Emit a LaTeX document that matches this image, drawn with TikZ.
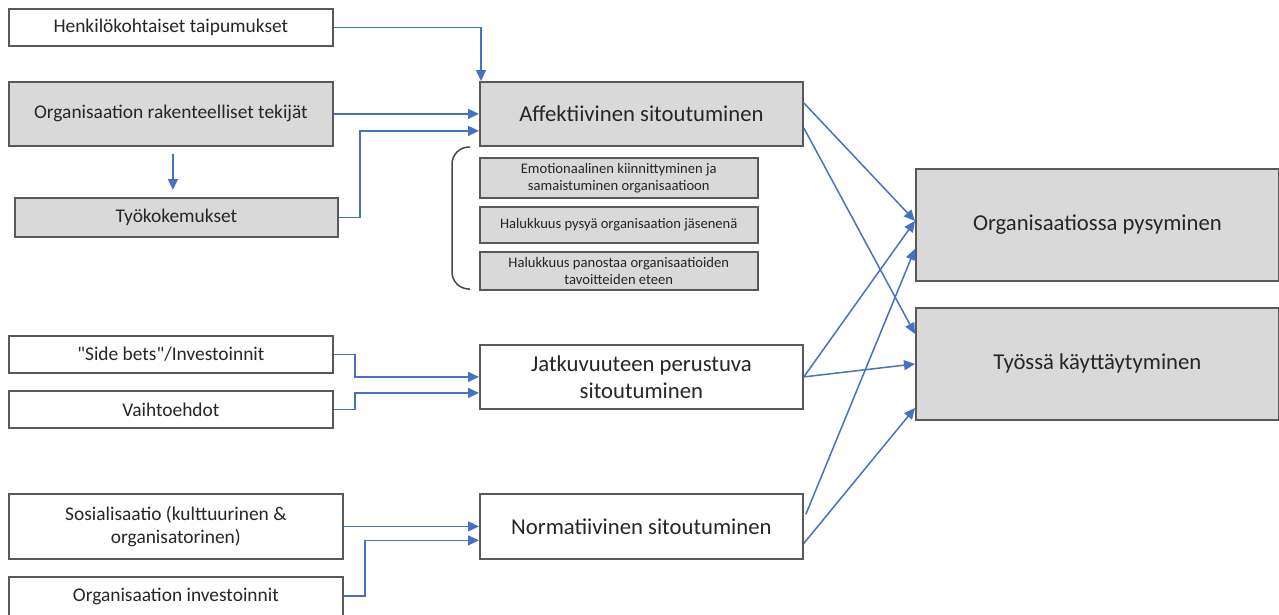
\documentclass[tikz,border=0pt]{standalone}
\usepackage{fontspec}
\setmainfont{Carlito}
\usetikzlibrary{arrows.meta,calc}
\definecolor{bordc}{HTML}{595959}
\definecolor{boxg}{HTML}{D9D9D9}
\definecolor{arrc}{HTML}{4472C4}
\definecolor{txtc}{HTML}{262626}
\newcommand\fsmall{\fontsize{19.4}{23}\selectfont}
\newcommand\fbig{\fontsize{22.7}{27}\selectfont}
\newcommand\ftiny{\fontsize{14.6}{17}\selectfont}
\newcommand\dquote{\XeTeXglyph\XeTeXcharglyph"22\relax}
\tikzset{
  box/.style={draw=bordc, line width=1.8pt, inner sep=2pt, anchor=north west, align=center, text=txtc, font=\fsmall, fill=white},
  gbox/.style={box, fill=boxg},
  bigbox/.style={font=\fbig},
  tinybox/.style={gbox, font=\ftiny, line width=1.5pt},
  arr/.style={draw=arrc, line width=1.5pt, -{Triangle[length=11pt,width=10pt]}},
}
\begin{document}
\begin{tikzpicture}[x=1pt,y=-1pt]
\useasboundingbox (0,0) rectangle (1279,614);
% left boxes
\node[box, minimum width=324pt, minimum height=37pt] (henk) at (8,8) {Henkilökohtaiset taipumukset};
\node[gbox, minimum width=324pt, minimum height=64pt] (org) at (8,81) {Organisaation rakenteelliset tekijät};
\node[gbox, minimum width=323pt, minimum height=39pt] (tyo) at (14,197) {Työkokemukset};
\node[box, minimum width=324pt, minimum height=37pt] (sb) at (8,335) {\dquote Side bets\dquote/Investoinnit};
\node[box, minimum width=324pt, minimum height=37pt] (vai) at (8,390) {Vaihtoehdot};
\node[box, minimum width=334pt, minimum height=65pt] (sos) at (8,493) {Sosialisaatio (kulttuurinen \&\\organisatorinen)};
\node[box, minimum width=334pt, minimum height=42pt, text depth=6pt] (oi) at (8,576) {Organisaation investoinnit};
% middle boxes
\node[gbox, bigbox, minimum width=323pt, minimum height=64pt] (aff) at (479,81) {Affektiivinen sitoutuminen};
\node[tinybox, minimum width=278pt, minimum height=40pt] (e1) at (479,157) {Emotionaalinen kiinnittyminen ja\\samaistuminen organisaatioon};
\node[tinybox, minimum width=278pt, minimum height=36pt] (e2) at (479,206) {Halukkuus pysyä organisaation jäsenenä};
\node[tinybox, minimum width=278pt, minimum height=38pt] (e3) at (479,251) {Halukkuus panostaa organisaatioiden\\tavoitteiden eteen};
\node[box, bigbox, minimum width=323pt, minimum height=64pt] (jat) at (479,344) {Jatkuvuuteen perustuva\\sitoutuminen};
\node[box, bigbox, minimum width=323pt, minimum height=65pt] (norm) at (479,493) {Normatiivinen sitoutuminen};
% right boxes
\node[gbox, bigbox, minimum width=363pt, minimum height=112pt] (op) at (915,168) {Organisaatiossa pysyminen};
\node[gbox, bigbox, minimum width=363pt, minimum height=112pt] (ty) at (915,307) {Työssä käyttäytyminen};
% brace
\draw[draw=bordc!80!black, line width=1.5pt, rounded corners=17pt] (470,147) -- (452,147) -- (452,289) -- (470,289);
% connectors
\draw[arr] (henk.east) -| ($(aff.north west)+(2,0)$);
\draw[arr] (org.east) -- (aff.west);
\draw[arr] (tyo.east) -- ++(21,0) |- ($(aff.west)+(0,17)$);
\draw[arr] ($(org.south)+(2,7)$) -- ($(tyo.north -| org.south)+(2,-7)$);
\draw[arr] (sb.east) -- ++(21,0) |- (jat.west);
\draw[arr] (vai.east) -- ++(21,0) |- ($(jat.west)+(0,16)$);
\draw[arr] (sos.east) -- (norm.west);
\draw[arr] ($(oi.east)+(0,-2)$) -- ++(21,0) |- ($(norm.west)+(0,14)$);
\draw[arr] ($(aff.east)+(0,-11)$) -- ($(op.west)+(0,-4)$);
\draw[arr] ($(aff.east)+(0,14)$) -- ($(ty.west)+(0,-30)$);
\draw[arr] (jat.east) -- ($(op.west)+(0,-4)$);
\draw[arr] (jat.east) -- (ty.west);
\draw[arr] ($(norm.east)+(2,-12)$) -- ($(op.west)+(0,24)$);
\draw[arr] ($(norm.east)+(0,17)$) -- ($(ty.west)+(0,44)$);
\end{tikzpicture}
\end{document}
